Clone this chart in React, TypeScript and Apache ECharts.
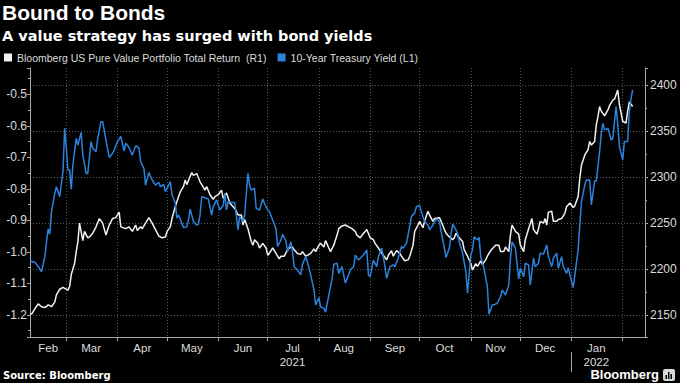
import React, { useEffect, useRef } from "react";
import * as echarts from "echarts";

const TITLE = "Bound to Bonds";
const SUBTITLE = "A value strategy has surged with bond yields";
const SOURCE = "Source: Bloomberg";
const SERIES_VALUE = "Bloomberg US Pure Value Portfolio Total Return  (R1)";
const SERIES_YIELD = "10-Year Treasury Yield (L1)";

const xStart = "2021-02-07";
const xEnd = "2022-02-14 12:00";
const monthStarts = [
  "2021-03-01", "2021-04-01", "2021-05-01", "2021-06-01", "2021-07-01", "2021-08-01",
  "2021-09-01", "2021-10-01", "2021-11-01", "2021-12-01", "2022-01-01", "2022-02-01",
];
const monthLabelDates = [
  "2021-02-18", "2021-03-16", "2021-04-16", "2021-05-16", "2021-06-16", "2021-07-16",
  "2021-08-16", "2021-09-16", "2021-10-16", "2021-11-16", "2021-12-16", "2022-01-16",
];
const monthLabelTexts = [
  "Feb", "Mar", "Apr", "May", "Jun", "Jul\n2021", "Aug", "Sep", "Oct", "Nov", "Dec", "Jan\n2022",
];
const yearBreaks = ["2022-01-01"];
const leftAxisRange = [-1.27, -0.4166];
const rightAxisRange = [2126, 2419];

const portfolioReturn: [string, number][] = [
  ["2021-02-07", 2151], ["2021-02-08", 2151], ["2021-02-10", 2157], ["2021-02-12", 2162], ["2021-02-14", 2159],
  ["2021-02-16", 2158], ["2021-02-18", 2161], ["2021-02-20", 2159], ["2021-02-22", 2164], ["2021-02-23", 2172],
  ["2021-02-25", 2178], ["2021-02-27", 2180], ["2021-02-28", 2179], ["2021-03-02", 2177], ["2021-03-03", 2181],
  ["2021-03-04", 2194], ["2021-03-06", 2206], ["2021-03-07", 2219], ["2021-03-08", 2230], ["2021-03-09", 2250],
  ["2021-03-11", 2231], ["2021-03-12", 2241], ["2021-03-14", 2234], ["2021-03-15", 2235], ["2021-03-17", 2239],
  ["2021-03-19", 2246], ["2021-03-21", 2255], ["2021-03-23", 2250], ["2021-03-25", 2237], ["2021-03-27", 2248],
  ["2021-03-29", 2255], ["2021-03-31", 2256], ["2021-04-02", 2262], ["2021-04-03", 2246], ["2021-04-06", 2244],
  ["2021-04-08", 2246], ["2021-04-10", 2241], ["2021-04-12", 2248], ["2021-04-13", 2242], ["2021-04-15", 2246],
  ["2021-04-16", 2244], ["2021-04-18", 2250], ["2021-04-20", 2256], ["2021-04-22", 2250], ["2021-04-24", 2243],
  ["2021-04-26", 2236], ["2021-04-28", 2234], ["2021-04-30", 2235], ["2021-05-01", 2241], ["2021-05-03", 2246],
  ["2021-05-04", 2255], ["2021-05-06", 2268], ["2021-05-08", 2279], ["2021-05-09", 2284], ["2021-05-11", 2290],
  ["2021-05-12", 2297], ["2021-05-13", 2292], ["2021-05-15", 2301], ["2021-05-16", 2305], ["2021-05-17", 2302],
  ["2021-05-19", 2304], ["2021-05-21", 2295], ["2021-05-22", 2292], ["2021-05-24", 2286], ["2021-05-25", 2290],
  ["2021-05-27", 2281], ["2021-05-29", 2276], ["2021-05-30", 2279], ["2021-06-01", 2281], ["2021-06-03", 2286],
  ["2021-06-04", 2277], ["2021-06-06", 2283], ["2021-06-08", 2272], ["2021-06-10", 2268], ["2021-06-11", 2266],
  ["2021-06-13", 2259], ["2021-06-15", 2259], ["2021-06-16", 2248], ["2021-06-17", 2254], ["2021-06-19", 2244],
  ["2021-06-21", 2230], ["2021-06-22", 2226], ["2021-06-23", 2232], ["2021-06-25", 2228], ["2021-06-26", 2223],
  ["2021-06-28", 2228], ["2021-06-30", 2223], ["2021-07-01", 2215], ["2021-07-03", 2220], ["2021-07-04", 2223],
  ["2021-07-06", 2217], ["2021-07-08", 2211], ["2021-07-09", 2214], ["2021-07-11", 2214], ["2021-07-13", 2221],
  ["2021-07-14", 2223], ["2021-07-16", 2224], ["2021-07-17", 2221], ["2021-07-19", 2217], ["2021-07-21", 2216],
  ["2021-07-22", 2219], ["2021-07-24", 2214], ["2021-07-25", 2215], ["2021-07-27", 2217], ["2021-07-29", 2222],
  ["2021-07-30", 2219], ["2021-08-01", 2226], ["2021-08-02", 2228], ["2021-08-04", 2224], ["2021-08-05", 2231],
  ["2021-08-07", 2223], ["2021-08-08", 2219], ["2021-08-10", 2226], ["2021-08-12", 2237], ["2021-08-13", 2244],
  ["2021-08-15", 2247], ["2021-08-17", 2248], ["2021-08-19", 2246], ["2021-08-21", 2244], ["2021-08-23", 2241],
  ["2021-08-24", 2237], ["2021-08-26", 2234], ["2021-08-28", 2239], ["2021-08-29", 2241], ["2021-08-30", 2243],
  ["2021-09-01", 2234], ["2021-09-03", 2232], ["2021-09-04", 2228], ["2021-09-06", 2223], ["2021-09-07", 2220],
  ["2021-09-09", 2215], ["2021-09-11", 2210], ["2021-09-12", 2215], ["2021-09-14", 2220], ["2021-09-15", 2214],
  ["2021-09-17", 2220], ["2021-09-19", 2217], ["2021-09-20", 2214], ["2021-09-22", 2209], ["2021-09-24", 2210],
  ["2021-09-25", 2214], ["2021-09-27", 2226], ["2021-09-28", 2241], ["2021-09-30", 2248], ["2021-10-01", 2252],
  ["2021-10-03", 2245], ["2021-10-04", 2252], ["2021-10-06", 2263], ["2021-10-07", 2259], ["2021-10-09", 2252],
  ["2021-10-10", 2255], ["2021-10-13", 2256], ["2021-10-14", 2252], ["2021-10-16", 2243], ["2021-10-17", 2239],
  ["2021-10-19", 2235], ["2021-10-21", 2232], ["2021-10-22", 2234], ["2021-10-23", 2239], ["2021-10-25", 2234],
  ["2021-10-27", 2230], ["2021-10-28", 2221], ["2021-10-30", 2214], ["2021-11-01", 2206], ["2021-11-02", 2199],
  ["2021-11-04", 2206], ["2021-11-05", 2203], ["2021-11-07", 2209], ["2021-11-08", 2205], ["2021-11-10", 2210],
  ["2021-11-11", 2214], ["2021-11-13", 2220], ["2021-11-15", 2224], ["2021-11-16", 2226], ["2021-11-18", 2226],
  ["2021-11-19", 2219], ["2021-11-21", 2219], ["2021-11-22", 2224], ["2021-11-24", 2219], ["2021-11-25", 2237],
  ["2021-11-26", 2248], ["2021-11-28", 2241], ["2021-11-30", 2238], ["2021-12-01", 2226], ["2021-12-03", 2219],
  ["2021-12-04", 2232], ["2021-12-06", 2244], ["2021-12-08", 2255], ["2021-12-09", 2243], ["2021-12-11", 2238],
  ["2021-12-12", 2244], ["2021-12-13", 2252], ["2021-12-15", 2250], ["2021-12-16", 2255], ["2021-12-17", 2248],
  ["2021-12-18", 2262], ["2021-12-20", 2263], ["2021-12-21", 2252], ["2021-12-23", 2252], ["2021-12-24", 2254],
  ["2021-12-26", 2255], ["2021-12-28", 2261], ["2021-12-29", 2268], ["2021-12-31", 2272], ["2022-01-02", 2267],
  ["2022-01-03", 2269], ["2022-01-05", 2279], ["2022-01-06", 2299], ["2022-01-07", 2313], ["2022-01-09", 2324],
  ["2022-01-11", 2330], ["2022-01-12", 2339], ["2022-01-13", 2335], ["2022-01-15", 2339], ["2022-01-16", 2357],
  ["2022-01-17", 2366], ["2022-01-18", 2377], ["2022-01-19", 2372], ["2022-01-21", 2367], ["2022-01-23", 2373],
  ["2022-01-24", 2378], ["2022-01-26", 2384], ["2022-01-27", 2385], ["2022-01-29", 2395], ["2022-01-30", 2379],
  ["2022-02-01", 2361], ["2022-02-03", 2359], ["2022-02-04", 2372], ["2022-02-05", 2382], ["2022-02-07", 2377],
];

const treasuryYield: [string, number][] = [
  ["2021-02-07", -1.029], ["2021-02-10", -1.033], ["2021-02-12", -1.047], ["2021-02-14", -1.063], ["2021-02-16", -1.015],
  ["2021-02-17", -0.968], ["2021-02-18", -0.927], ["2021-02-19", -0.944], ["2021-02-20", -0.872], ["2021-02-22", -0.814],
  ["2021-02-23", -0.793], ["2021-02-25", -0.825], ["2021-02-26", -0.782], ["2021-02-27", -0.745], ["2021-02-28", -0.608],
  ["2021-03-01", -0.671], ["2021-03-02", -0.74], ["2021-03-03", -0.74], ["2021-03-04", -0.801], ["2021-03-05", -0.724],
  ["2021-03-07", -0.64], ["2021-03-08", -0.661], ["2021-03-10", -0.621], ["2021-03-11", -0.693], ["2021-03-13", -0.751],
  ["2021-03-14", -0.751], ["2021-03-16", -0.65], ["2021-03-17", -0.671], ["2021-03-19", -0.682], ["2021-03-20", -0.64],
  ["2021-03-22", -0.587], ["2021-03-23", -0.587], ["2021-03-25", -0.645], ["2021-03-27", -0.701], ["2021-03-29", -0.687],
  ["2021-03-30", -0.677], ["2021-04-01", -0.65], ["2021-04-03", -0.634], ["2021-04-05", -0.68], ["2021-04-06", -0.655],
  ["2021-04-08", -0.669], ["2021-04-10", -0.693], ["2021-04-12", -0.663], ["2021-04-14", -0.671], ["2021-04-15", -0.714],
  ["2021-04-17", -0.735], ["2021-04-18", -0.788], ["2021-04-20", -0.748], ["2021-04-22", -0.772], ["2021-04-24", -0.788],
  ["2021-04-26", -0.779], ["2021-04-27", -0.793], ["2021-04-29", -0.786], ["2021-04-30", -0.809], ["2021-05-02", -0.788],
  ["2021-05-03", -0.777], ["2021-05-04", -0.819], ["2021-05-06", -0.846], ["2021-05-07", -0.893], ["2021-05-08", -0.883],
  ["2021-05-10", -0.909], ["2021-05-11", -0.923], ["2021-05-13", -0.92], ["2021-05-14", -0.899], ["2021-05-15", -0.864],
  ["2021-05-17", -0.904], ["2021-05-19", -0.915], ["2021-05-20", -0.912], ["2021-05-21", -0.883], ["2021-05-22", -0.825],
  ["2021-05-24", -0.828], ["2021-05-26", -0.832], ["2021-05-28", -0.883], ["2021-05-29", -0.857], ["2021-05-31", -0.835],
  ["2021-06-02", -0.867], ["2021-06-04", -0.853], ["2021-06-05", -0.814], ["2021-06-06", -0.867], ["2021-06-07", -0.841],
  ["2021-06-09", -0.843], ["2021-06-11", -0.843], ["2021-06-13", -0.93], ["2021-06-14", -0.888], ["2021-06-16", -0.904],
  ["2021-06-17", -0.883], ["2021-06-19", -0.751], ["2021-06-20", -0.788], ["2021-06-21", -0.804], ["2021-06-23", -0.798],
  ["2021-06-24", -0.862], ["2021-06-26", -0.867], ["2021-06-28", -0.832], ["2021-06-29", -0.846], ["2021-07-01", -0.867],
  ["2021-07-02", -0.872], ["2021-07-04", -0.899], ["2021-07-06", -0.927], ["2021-07-07", -0.983], ["2021-07-09", -0.962],
  ["2021-07-10", -0.944], ["2021-07-12", -0.965], ["2021-07-13", -0.999], ["2021-07-15", -0.968], ["2021-07-16", -0.999],
  ["2021-07-17", -1.047], ["2021-07-19", -1.057], ["2021-07-21", -1.073], ["2021-07-22", -1.041], ["2021-07-24", -1.015],
  ["2021-07-25", -1.031], ["2021-07-27", -1.073], ["2021-07-29", -1.121], ["2021-07-30", -1.168], ["2021-08-01", -1.145],
  ["2021-08-02", -1.174], ["2021-08-04", -1.179], ["2021-08-05", -1.191], ["2021-08-07", -1.137], ["2021-08-09", -1.084],
  ["2021-08-10", -1.039], ["2021-08-12", -1.036], ["2021-08-13", -1.068], ["2021-08-15", -1.047], ["2021-08-16", -1.073],
  ["2021-08-17", -1.099], ["2021-08-19", -1.073], ["2021-08-20", -1.057], ["2021-08-22", -1.047], ["2021-08-23", -1.01],
  ["2021-08-25", -1.026], ["2021-08-26", -1.02], ["2021-08-28", -1.01], ["2021-08-30", -0.994], ["2021-08-31", -1.073],
  ["2021-09-01", -1.079], ["2021-09-03", -1.026], ["2021-09-05", -1.047], ["2021-09-06", -1.015], ["2021-09-08", -0.988],
  ["2021-09-09", -1.015], ["2021-09-10", -1.047], ["2021-09-11", -1.084], ["2021-09-13", -1.047], ["2021-09-15", -1.041],
  ["2021-09-16", -1.047], ["2021-09-18", -1.02], ["2021-09-20", -0.983], ["2021-09-21", -0.988], ["2021-09-23", -0.973],
  ["2021-09-24", -0.946], ["2021-09-26", -0.888], ["2021-09-28", -0.877], ["2021-09-29", -0.857], ["2021-10-01", -0.853],
  ["2021-10-02", -0.872], ["2021-10-04", -0.904], ["2021-10-06", -0.915], ["2021-10-07", -0.93], ["2021-10-09", -0.915],
  ["2021-10-11", -0.896], ["2021-10-13", -0.904], ["2021-10-14", -0.936], ["2021-10-16", -0.988], ["2021-10-17", -1.018],
  ["2021-10-19", -0.988], ["2021-10-20", -0.946], ["2021-10-21", -0.912], ["2021-10-23", -0.93], ["2021-10-24", -0.944],
  ["2021-10-25", -0.968], ["2021-10-27", -1.004], ["2021-10-29", -1.063], ["2021-10-30", -1.131], ["2021-11-01", -1.01],
  ["2021-11-02", -0.994], ["2021-11-03", -0.952], ["2021-11-05", -0.962], ["2021-11-06", -0.954], ["2021-11-07", -1.015],
  ["2021-11-09", -1.052], ["2021-11-11", -1.11], ["2021-11-12", -1.198], ["2021-11-14", -1.168], ["2021-11-15", -1.168],
  ["2021-11-17", -1.163], ["2021-11-19", -1.142], ["2021-11-20", -1.121], ["2021-11-22", -1.137], ["2021-11-24", -1.105],
  ["2021-11-25", -1.02], ["2021-11-26", -0.968], ["2021-11-28", -0.988], ["2021-11-30", -1.086], ["2021-12-01", -1.052],
  ["2021-12-03", -1.079], ["2021-12-04", -1.036], ["2021-12-06", -1.041], ["2021-12-07", -1.105], ["2021-12-09", -1.02],
  ["2021-12-10", -1.047], ["2021-12-12", -1.036], ["2021-12-13", -1.004], ["2021-12-15", -1.007], ["2021-12-17", -0.978],
  ["2021-12-18", -1.015], ["2021-12-20", -1.047], ["2021-12-21", -1.02], ["2021-12-23", -1.004], ["2021-12-24", -1.052],
  ["2021-12-26", -1.015], ["2021-12-27", -1.047], ["2021-12-29", -1.068], ["2021-12-30", -1.05], ["2021-12-31", -1.073],
  ["2022-01-02", -1.113], ["2022-01-03", -1.073], ["2022-01-05", -0.994], ["2022-01-06", -0.915], ["2022-01-07", -0.841],
  ["2022-01-09", -0.788], ["2022-01-10", -0.772], ["2022-01-12", -0.772], ["2022-01-13", -0.851], ["2022-01-15", -0.775],
  ["2022-01-16", -0.775], ["2022-01-18", -0.682], ["2022-01-19", -0.624], ["2022-01-20", -0.592], ["2022-01-21", -0.613],
  ["2022-01-23", -0.608], ["2022-01-24", -0.624], ["2022-01-25", -0.645], ["2022-01-26", -0.64], ["2022-01-28", -0.539],
  ["2022-01-29", -0.597], ["2022-01-30", -0.666], ["2022-02-01", -0.708], ["2022-02-02", -0.65], ["2022-02-04", -0.65],
  ["2022-02-05", -0.555], ["2022-02-06", -0.515], ["2022-02-07", -0.486],
];

const WHITE = "#f2f2f2";
const BLUE = "#2b83dc";
const AXIS = "#a8a8a8";
const LABEL = "#dcdcdc";
const GRID = "#5a5a5a";
const SANS = '"Liberation Sans", Arial, sans-serif';

const toTs = (s: string) => +echarts.time.parse(s);

export default function App() {
  const ref = useRef<HTMLDivElement>(null);

  useEffect(() => {
    document.body.style.margin = "0";
    document.body.style.background = "#000";
    if (!ref.current) return;
    const chart = echarts.init(ref.current, undefined, { renderer: "svg" });

    const labelTimes = monthLabelDates.map(toTs);
    const monthFormatter = (v: number) => {
      let best = 0;
      let bestD = Infinity;
      labelTimes.forEach((t, i) => {
        const d = Math.abs(t - v);
        if (d < bestD) { bestD = d; best = i; }
      });
      return monthLabelTexts[best];
    };
    const xMin = toTs(xStart);
    const xMax = toTs(xEnd);

    chart.setOption({
      animation: false,
      backgroundColor: "#000",
      title: {
        text: TITLE,
        subtext: SUBTITLE,
        left: 2,
        top: 1,
        padding: 0,
        itemGap: 3,
        textStyle: { color: "#fff", fontSize: 21, fontWeight: "bold", fontFamily: SANS, lineHeight: 23 },
        subtextStyle: { color: "#fff", fontSize: 14.5, fontWeight: "bold", fontFamily: '"DejaVu Sans", sans-serif', lineHeight: 17 },
      },
      legend: {
        left: 4,
        top: 52,
        padding: 0,
        icon: "rect",
        itemWidth: 8,
        itemHeight: 8,
        itemGap: 11,
        textStyle: { color: LABEL, fontSize: 10.5, fontFamily: SANS },
        data: [SERIES_VALUE, SERIES_YIELD],
      },
      grid: { left: 30, right: 35, top: 68, bottom: 46, containLabel: false },
      xAxis: [
        {
          type: "value",
          min: xMin,
          max: xMax,
          axisLine: { show: true, lineStyle: { color: AXIS, width: 1 } },
          axisTick: { show: true, customValues: monthStarts.map(toTs), length: 4, lineStyle: { color: AXIS } },
          axisLabel: {
            customValues: labelTimes,
            formatter: monthFormatter,
            color: LABEL,
            fontSize: 11.5,
            fontFamily: SANS,
            lineHeight: 14,
            margin: 4,
          },
          splitLine: { show: true, lineStyle: { color: GRID, type: [1, 2], width: 1 } },
        },
        {
          type: "value",
          min: xMin,
          max: xMax,
          position: "bottom",
          offset: 15,
          axisLine: { show: false },
          axisLabel: { show: false },
          splitLine: { show: false },
          axisTick: { show: true, customValues: yearBreaks.map(toTs), length: 20, lineStyle: { color: AXIS } },
        },
      ],
      yAxis: [
        {
          type: "value",
          position: "left",
          min: leftAxisRange[0],
          max: leftAxisRange[1],
          splitNumber: 8,
          axisLine: { show: true, lineStyle: { color: AXIS } },
          axisTick: { show: true, length: 3, lineStyle: { color: AXIS } },
          minorTick: { show: true, splitNumber: 2, length: 2, lineStyle: { color: AXIS } },
          axisLabel: {
            showMinLabel: false,
            showMaxLabel: false,
            formatter: (v: number) => v.toFixed(1),
            color: LABEL,
            fontSize: 12,
            fontFamily: SANS,
            margin: 3,
          },
          splitLine: { show: false },
        },
        {
          type: "value",
          position: "right",
          min: rightAxisRange[0],
          max: rightAxisRange[1],
          splitNumber: 5,
          axisLine: { show: true, lineStyle: { color: AXIS } },
          axisTick: { show: true, length: 3, lineStyle: { color: AXIS } },
          minorTick: { show: true, splitNumber: 2, length: 2, lineStyle: { color: AXIS } },
          axisLabel: {
            showMinLabel: false,
            showMaxLabel: false,
            formatter: (v: number) => String(Math.round(v)),
            color: LABEL,
            fontSize: 12,
            fontFamily: SANS,
            margin: 5,
          },
          splitLine: { show: true, showMinLine: false, showMaxLine: false, lineStyle: { color: GRID, type: [1, 2], width: 1 } },
        },
      ],
      series: [
        {
          name: SERIES_VALUE,
          type: "line",
          xAxisIndex: 0,
          yAxisIndex: 1,
          data: portfolioReturn.map(([d, v]) => [toTs(d), v]),
          showSymbol: false,
          lineStyle: { color: WHITE, width: 1.5 },
          itemStyle: { color: WHITE },
        },
        {
          name: SERIES_YIELD,
          type: "line",
          xAxisIndex: 0,
          yAxisIndex: 0,
          data: treasuryYield.map(([d, v]) => [toTs(d), v]),
          showSymbol: false,
          lineStyle: { color: BLUE, width: 1.5 },
          itemStyle: { color: BLUE },
        },
      ],
      graphic: [
        {
          type: "text",
          left: 3,
          top: 370,
          style: { text: SOURCE, fill: "#fff", font: 'bold 10px "DejaVu Sans", sans-serif' },
        },
        {
          type: "text",
          right: 21,
          top: 368,
          style: { text: "Bloomberg", fill: "#fff", font: 'bold 13px "Liberation Sans", Arial, sans-serif' },
        },
        {
          type: "group",
          right: 5,
          top: 369,
          children: [
            { type: "rect", shape: { x: 0, y: 0, width: 12, height: 12, r: 2 }, style: { fill: "#d8d8d8" } },
            { type: "rect", shape: { x: 2.5, y: 6, width: 1.5, height: 4 }, style: { fill: "#000" } },
            { type: "rect", shape: { x: 5, y: 3, width: 1.5, height: 7 }, style: { fill: "#000" } },
            { type: "rect", shape: { x: 7.5, y: 5, width: 1.5, height: 5 }, style: { fill: "#000" } },
          ],
        },
      ],
    });

    return () => chart.dispose();
  }, []);

  return <div ref={ref} style={{ width: 680, height: 383, background: "#000" }} />;
}
